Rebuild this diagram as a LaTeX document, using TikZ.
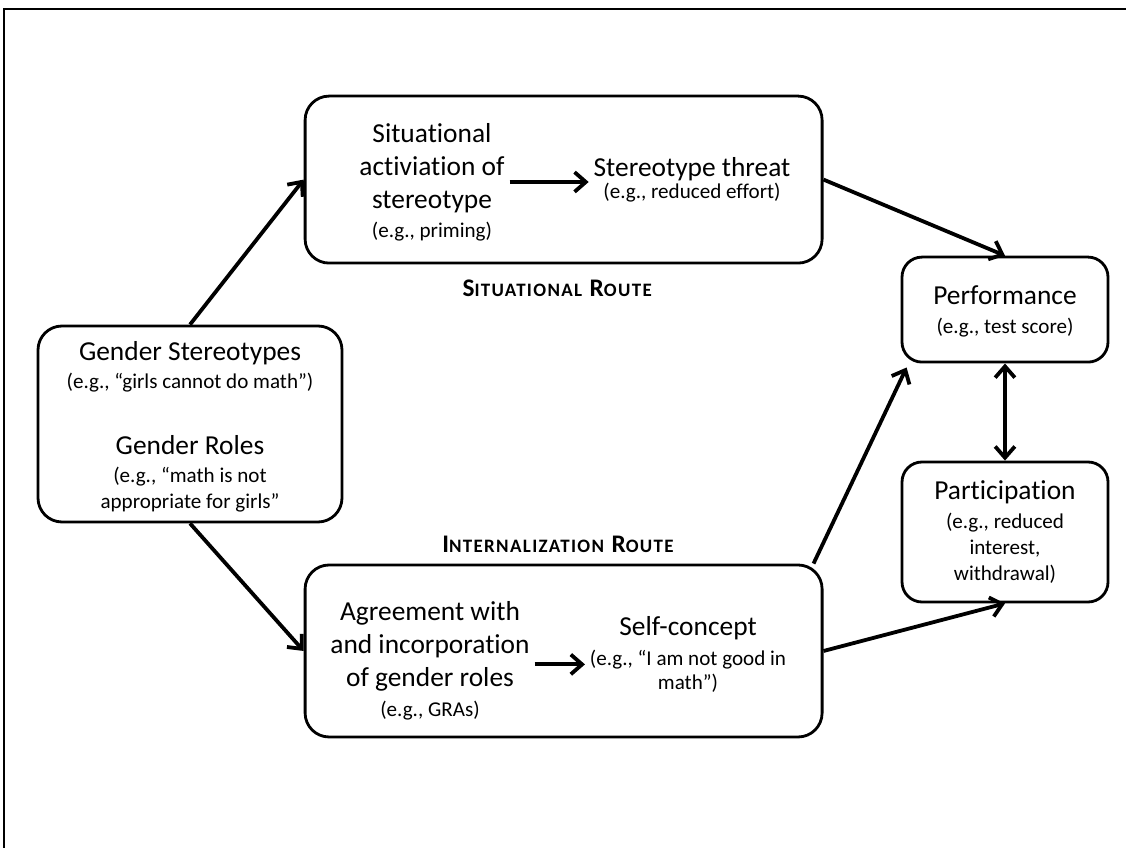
\documentclass[tikz,border=0pt]{standalone}
\usepackage{fontspec}
\setmainfont{Carlito}[Ligatures=NoCommon]
\usetikzlibrary{arrows.meta}

\tikzset{
    caja/.style={draw, line width=2pt, rounded corners=0.6cm, inner sep=0pt},
    texto/.style={align=center, font=\fontsize{19.5}{23.5}\selectfont},
    flecha/.style={line width=2.7pt, -{Straight Barb[length=8pt,width=14pt]}},
    ruta/.style={font=\bfseries\addfontfeatures{LetterSpace=7}\fontsize{18}{20}\selectfont},
    marco/.style={line width=1.5pt}
}
\newcommand{\ejemplo}[1]{{\fontsize{15}{18.5}\selectfont #1}}
\newcommand{\versalita}[2]{#1{\fontsize{13.5}{14}\selectfont #2}}

\begin{document}
\begin{tikzpicture}
        % Fija el tamaño de la figura y dibuja el marco.
        \useasboundingbox (0,0) rectangle (28.15,21.2);
        \draw[marco] (0.1,0) -- (0.1,20.975) -- (28.15,20.975);

        % Dibuja las cajas.
        \node[caja, minimum width=12.925cm, minimum height=4.175cm] (sit) at (14.09,16.71) {};
        \node[caja, minimum width=7.6cm, minimum height=4.9cm] (gen) at (4.75,10.6) {};
        \node[caja, minimum width=12.925cm, minimum height=4.3cm] (inte) at (14.09,4.925) {};
        \node[caja, rounded corners=0.5cm, minimum width=5.15cm, minimum height=2.625cm] (perf) at (25.125,13.46) {};
        \node[caja, rounded corners=0.5cm, minimum width=5.15cm, minimum height=3.5cm] (part) at (25.125,7.9) {};

        % Textos de la ruta situacional.
        \node[texto] (act) at (10.8,16.65) {Situational\\activiation of\\stereotype\\[-3.1pt]\ejemplo{(e.g., priming)}};
        \node[texto] (thr) at (17.3,16.7) {Stereotype threat\\[-8pt]\ejemplo{(e.g., reduced effort)}};
        \node[ruta] (rsit) at (13.93,14.0) {\versalita{S}{ITUATIONAL} \versalita{R}{OUTE}};

        % Textos de los estereotipos y roles.
        \node[texto] (ster) at (4.75,12.03) {Gender Stereotypes\\[-3.6pt]\ejemplo{(e.g., “girls cannot do math”)}};
        \node[texto] (rol) at (4.75,9.35) {Gender Roles\\[-3.6pt]\ejemplo{(e.g., “math is not}\\[-5pt]\ejemplo{appropriate for girls”}};

        % Textos de la ruta de internalización.
        \node[texto] (agr) at (10.75,4.69) {Agreement with\\and incorporation\\of gender roles\\[-2.2pt]\ejemplo{(e.g., GRAs)}};
        \node[texto] (self) at (17.2,4.84) {Self-concept\\[-2.2pt]\ejemplo{(e.g., “I am not good in}\\[-7pt]\ejemplo{math”)}};
        \node[ruta] (rint) at (13.95,7.6) {\versalita{I}{NTERNALIZATION} \versalita{R}{OUTE}};

        % Textos de los resultados.
        \node[texto] (perfT) at (25.125,13.42) {Performance\\[-2.9pt]\ejemplo{(e.g., test score)}};
        \node[texto] (partT) at (25.125,7.89) {Participation\\[-2.9pt]\ejemplo{(e.g., reduced}\\[-5.5pt]\ejemplo{interest,}\\[-4.5pt]\ejemplo{withdrawal)}};

        % Flechas internas.
        \draw[flecha] (act.east) -- (act.east -| thr.west);
        \draw[flecha] ([yshift=-0.1cm]agr.east) -- ([yshift=-0.1cm]agr.east -| self.west);

        % Flechas entre las cajas.
        \draw[flecha] (gen.north) -- (sit.west);
        \draw[flecha] (gen.south) -- (inte.west);
        \draw[flecha] (sit.east) -- (perf.north);
        \draw[flecha] ([xshift=-0.25cm]inte.north east) -- ([shift={(0.15,-0.1)}]perf.south west);
        \draw[flecha] (inte.east) -- (part.south);
        \draw[flecha, {Straight Barb[length=8pt,width=14pt]}-{Straight Barb[length=8pt,width=14pt]}] (perf.south) -- (part.north);
\end{tikzpicture}
\end{document}
